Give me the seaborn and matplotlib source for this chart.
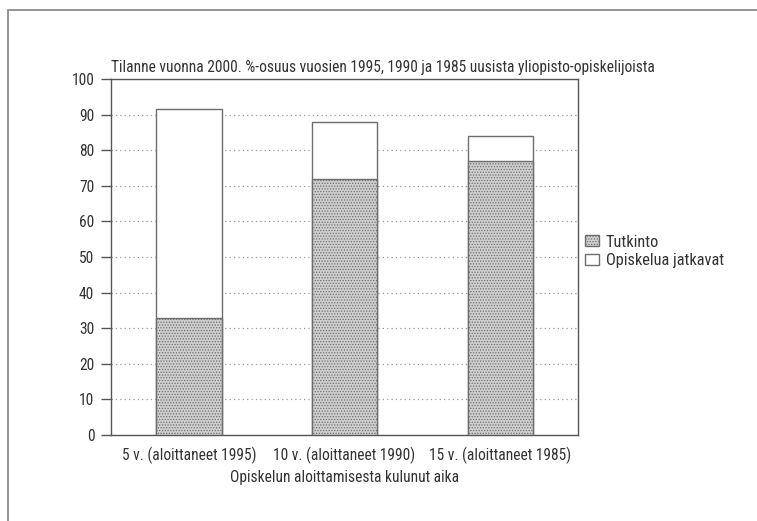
import matplotlib
matplotlib.use("Agg")
import matplotlib.pyplot as plt
from matplotlib.patches import Rectangle, Patch
from matplotlib import font_manager
import seaborn as sns
import pandas as pd

# data
categories = ["5 v. (aloittaneet 1995)", "10 v. (aloittaneet 1990)", "15 v. (aloittaneet 1985)"]
tutkinto = [33, 72, 77]
jatkavat = [58.5, 16, 7]
title = "Tilanne vuonna 2000. %-osuus vuosien 1995, 1990 ja 1985 uusista yliopisto-opiskelijoista"
xlabel = "Opiskelun aloittamisesta kulunut aika"
yticks = [0, 10, 20, 30, 40, 50, 60, 70, 80, 90, 100]

sns.set_style("white")
available = {f.name for f in font_manager.fontManager.ttflist}
fams = [f for f in ["Liberation Sans Narrow", "DejaVu Sans Condensed", "Roboto Condensed"] if f in available]
plt.rcParams["font.family"] = fams + ["Liberation Sans", "DejaVu Sans"]
plt.rcParams["hatch.color"] = "#8a8a8a"
plt.rcParams["hatch.linewidth"] = 0.6

df = pd.DataFrame({"aika": categories, "Tutkinto": tutkinto,
                   "Opiskelua jatkavat": jatkavat})
df["yhteensa"] = df["Tutkinto"] + df["Opiskelua jatkavat"]

fig = plt.figure(figsize=(7.57, 5.21), dpi=100)
ax = fig.add_axes([0.1466, 0.165, 0.617, 0.6833])

edge = "#6e6e6e"
fs = 11.2
sns.barplot(data=df, x="aika", y="yhteensa", color="white", edgecolor=edge,
            linewidth=1.0, width=0.42, ax=ax, zorder=3)
sns.barplot(data=df, x="aika", y="Tutkinto", color="#cfcfcf", edgecolor=edge,
            linewidth=1.0, width=0.42, hatch="......", ax=ax, zorder=4)
for p in ax.patches:
    p.set_edgecolor(edge)

ax.set_ylim(0, 100)
ax.set_xlim(-0.5, 2.5)
ax.set_yticks(yticks)
ax.yaxis.grid(True, linestyle=(0, (1, 2.5)), color="#9a9a9a", linewidth=0.9, zorder=0)
ax.set_axisbelow(True)
for s in ax.spines.values():
    s.set_visible(True)
    s.set_color("#555555")
    s.set_linewidth(1.0)
ax.tick_params(axis="y", left=True, length=7, width=1.0, color="#555555",
               labelsize=fs, labelcolor="#333333", pad=5)
ax.tick_params(axis="x", bottom=False, labelsize=fs, labelcolor="#333333", pad=5)
ax.set_xlabel(xlabel, fontsize=fs, color="#333333", labelpad=4)
ax.set_ylabel("")
ax.set_title(title, loc="left", fontsize=fs, color="#333333", pad=5)

handles = [Patch(facecolor="#cfcfcf", edgecolor=edge, hatch="......", label="Tutkinto"),
           Patch(facecolor="white", edgecolor=edge, label="Opiskelua jatkavat")]
ax.legend(handles=handles, loc="center left", bbox_to_anchor=(1.0, 0.516), frameon=False,
          fontsize=11.8, handlelength=0.9, handleheight=0.65, handletextpad=0.4,
          labelspacing=0.2, borderaxespad=0.0, labelcolor="#333333")

# outer frame of the original page, cut off at right and bottom
fig.patches.append(Rectangle((8 / 757, -0.2), 1.5, 1.2 - 10 / 521, transform=fig.transFigure,
                             fill=False, edgecolor="#8c8c8c", linewidth=1.3))

fig.savefig("out.png", dpi=100, facecolor="white")
